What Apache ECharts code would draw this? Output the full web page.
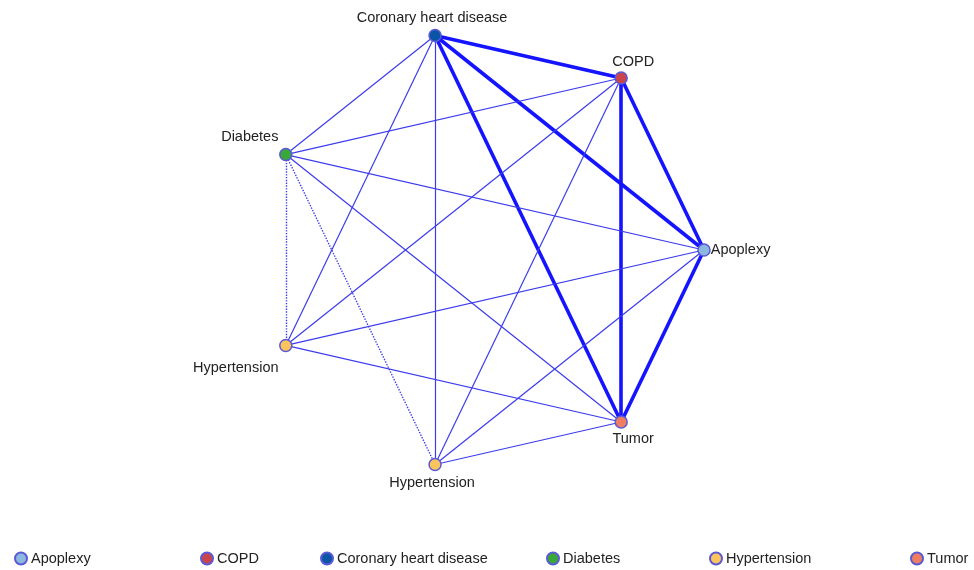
<!DOCTYPE html>
<html>
<head>
<meta charset="utf-8">
<script src="https://cdn.jsdelivr.net/npm/echarts@6/dist/echarts.min.js"></script>
<style>
  html, body { margin: 0; padding: 0; background: #fff; }
  #main { width: 974px; height: 570px; }
</style>
</head>
<body>
<div id="main"></div>
<script>
const categories = ['Apoplexy', 'COPD', 'Coronary heart disease', 'Diabetes', 'Hypertension', 'Tumor']
const categoryColors = ['#8cb8e0', '#c8464b', '#0b55a6', '#3aa838', '#fcc45c', '#ee7d62']

// nodes go counter-clockwise from the right
const nodeNames = ['Apoplexy', 'COPD', 'Coronary heart disease', 'Diabetes', 'Hypertension', 'Hypertension', 'Tumor']
const nodeCategory = [0, 1, 2, 3, 4, 4, 5]

// [source, target] by node index
const strongEdges = [[2, 1], [2, 0], [2, 6], [1, 0], [1, 6], [0, 6]]
const normalEdges = [[2, 3], [2, 4], [2, 5], [1, 3], [1, 4], [1, 5], [3, 0], [3, 6], [4, 0], [4, 6], [5, 0], [5, 6]]
const weakEdges = [[3, 4], [3, 5]]

// label placement per node
const labelPos = [
  { position: 'right', distance: 0, offset: [0, 0] },
  { position: 'top', offset: [12, 3] },
  { position: 'top', offset: [-3, 2] },
  { position: 'top', offset: [-36, 2] },
  { position: 'bottom', offset: [-50, 3] },
  { position: 'bottom', offset: [-3, -1] },
  { position: 'bottom', offset: [12, -2] }
]

const legendLeft = [9, 195, 315, 541, 704, 905]

const fontName = 'Liberation Sans, Arial, sans-serif'

const chart = echarts.init(document.getElementById('main'))

const nodes = nodeNames.map(function (n, i) {
  return {
    id: 'n' + i,
    name: n,
    value: [1, i],
    category: nodeCategory[i],
    label: labelPos[i]
  }
})

const links = []
strongEdges.forEach(function (e) {
  links.push({ source: e[0], target: e[1], lineStyle: { width: 3.6, color: '#1414ff', type: 'solid' } })
})
normalEdges.forEach(function (e) {
  links.push({ source: e[0], target: e[1], lineStyle: { width: 1.2, color: '#3c3cee', type: 'solid' } })
})
weakEdges.forEach(function (e) {
  links.push({ source: e[0], target: e[1], lineStyle: { width: 1.4, color: '#3c3cee', type: 'dotted' } })
})

const legends = categories.map(function (c, i) {
  return {
    data: [c],
    left: legendLeft[i],
    top: 546,
    icon: 'circle',
    itemWidth: 12,
    itemHeight: 12,
    itemGap: 0,
    selectedMode: false,
    textStyle: { fontFamily: fontName, fontSize: 14.5, color: '#222', padding: [0, 0, 0, -1] }
  }
})

const option = {
  backgroundColor: '#fff',
  animation: false,
  legend: legends,
  polar: {
    center: [484, 250],
    radius: 220
  },
  angleAxis: {
    show: false,
    type: 'category',
    data: nodeNames.map(function (n, i) { return i }),
    clockwise: false,
    startAngle: -180 / nodeNames.length
  },
  radiusAxis: {
    show: false,
    type: 'value',
    min: 0,
    max: 1
  },
  series: [
    {
      type: 'graph',
      coordinateSystem: 'polar',
      symbol: 'circle',
      symbolSize: 12,
      z: 3,
      categories: categories.map(function (c, i) {
        return {
          name: c,
          itemStyle: { color: categoryColors[i], borderColor: '#5a5ad6', borderWidth: 1.5 }
        }
      }),
      data: nodes,
      links: links,
      label: {
        show: true,
        formatter: '{b}',
        fontFamily: fontName,
        fontSize: 14.5,
        color: '#222'
      },
      lineStyle: { opacity: 1, curveness: 0 },
      emphasis: { disabled: true }
    }
  ]
}

chart.setOption(option)
</script>
</body>
</html>
